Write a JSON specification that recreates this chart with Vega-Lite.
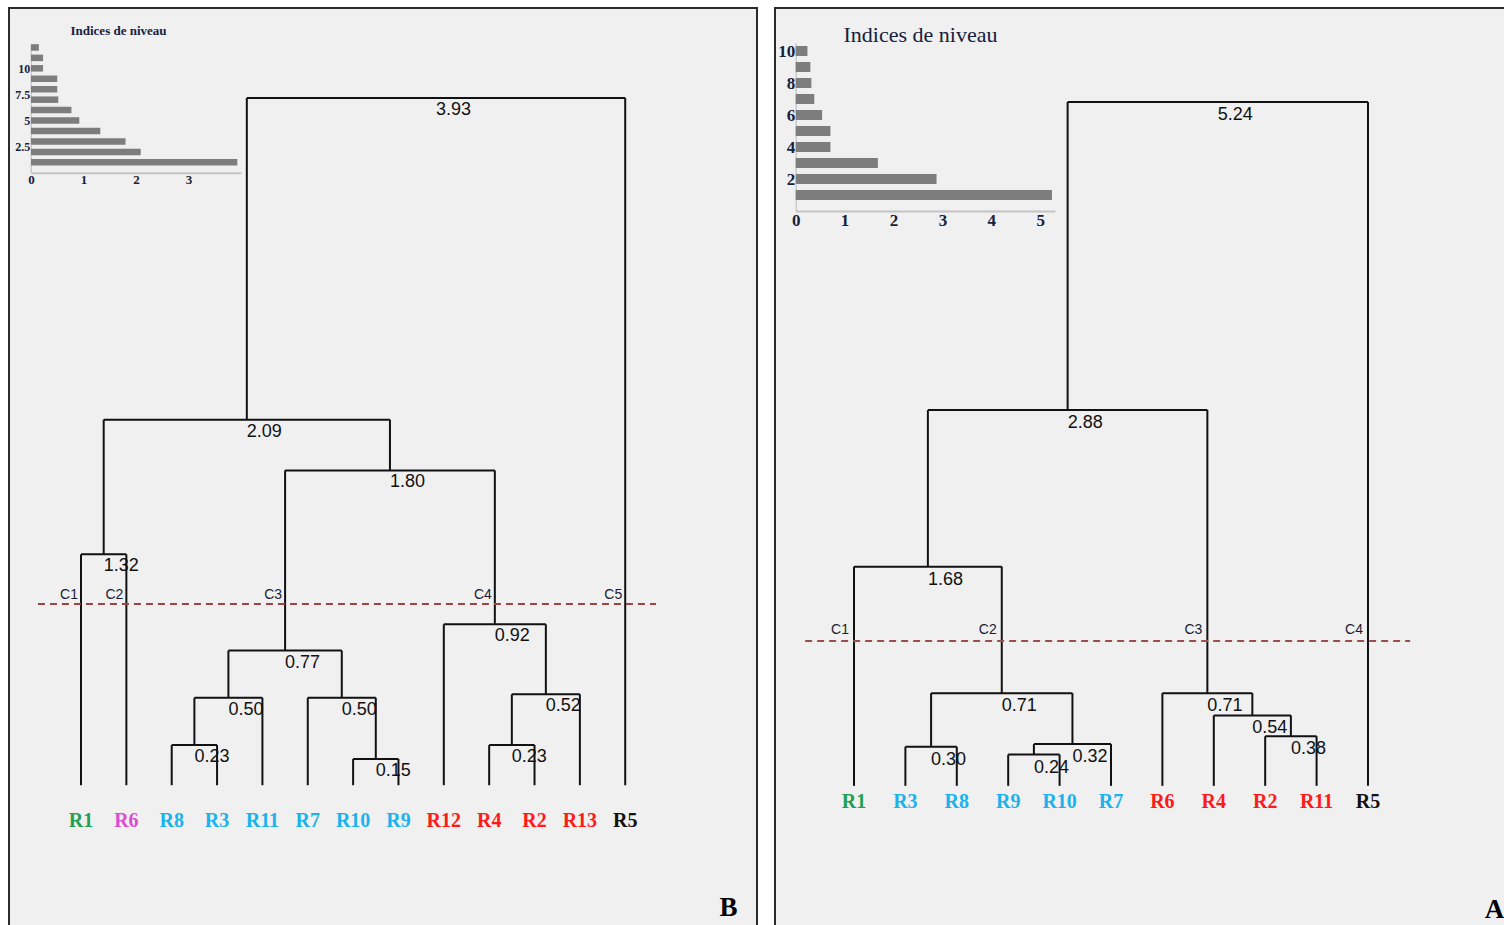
{
  "$schema": "https://vega.github.io/schema/vega-lite/v6.json",
  "background": "#ffffff",
  "padding": {"left": 8, "top": 7, "right": 0, "bottom": 0},
  "spacing": 16,
  "config": {
    "view": {"fill": "#f0f0f0", "stroke": "#2b2b2b", "strokeWidth": 2},
    "axis": {"grid": false, "ticks": false}
  },
  "resolve": {"scale": {"color": "independent"}},
  "datasets": {
    "leftNodes": [
      {"h": 0.23, "xl": 3, "hl": 0, "xr": 4, "hr": 0, "xc": 3.5},
      {"h": 0.50, "xl": 3.5, "hl": 0.23, "xr": 5, "hr": 0, "xc": 4.25},
      {"h": 0.15, "xl": 7, "hl": 0, "xr": 8, "hr": 0, "xc": 7.5},
      {"h": 0.50, "xl": 6, "hl": 0, "xr": 7.5, "hr": 0.15, "xc": 6.75},
      {"h": 0.77, "xl": 4.25, "hl": 0.50, "xr": 6.75, "hr": 0.50, "xc": 5.5},
      {"h": 0.23, "xl": 10, "hl": 0, "xr": 11, "hr": 0, "xc": 10.5},
      {"h": 0.52, "xl": 10.5, "hl": 0.23, "xr": 12, "hr": 0, "xc": 11.25},
      {"h": 0.92, "xl": 9, "hl": 0, "xr": 11.25, "hr": 0.52, "xc": 10.125},
      {"h": 1.80, "xl": 5.5, "hl": 0.77, "xr": 10.125, "hr": 0.92, "xc": 7.8125},
      {"h": 1.32, "xl": 1, "hl": 0, "xr": 2, "hr": 0, "xc": 1.5},
      {"h": 2.09, "xl": 1.5, "hl": 1.32, "xr": 7.8125, "hr": 1.80, "xc": 4.65625},
      {"h": 3.93, "xl": 4.65625, "hl": 2.09, "xr": 13, "hr": 0, "xc": 8.828}
    ],
    "leftLeaves": [
      {"leaf": "R1", "pos": 1, "cluster": "C1"},
      {"leaf": "R6", "pos": 2, "cluster": "C2"},
      {"leaf": "R8", "pos": 3, "cluster": "C3"},
      {"leaf": "R3", "pos": 4, "cluster": "C3"},
      {"leaf": "R11", "pos": 5, "cluster": "C3"},
      {"leaf": "R7", "pos": 6, "cluster": "C3"},
      {"leaf": "R10", "pos": 7, "cluster": "C3"},
      {"leaf": "R9", "pos": 8, "cluster": "C3"},
      {"leaf": "R12", "pos": 9, "cluster": "C4"},
      {"leaf": "R4", "pos": 10, "cluster": "C4"},
      {"leaf": "R2", "pos": 11, "cluster": "C4"},
      {"leaf": "R13", "pos": 12, "cluster": "C4"},
      {"leaf": "R5", "pos": 13, "cluster": "C5"}
    ],
    "leftClusters": [
      {"label": "C1", "pos": 1, "cut": 1.036},
      {"label": "C2", "pos": 2, "cut": 1.036},
      {"label": "C3", "pos": 5.5, "cut": 1.036},
      {"label": "C4", "pos": 10.125, "cut": 1.036},
      {"label": "C5", "pos": 13, "cut": 1.036}
    ],
    "leftCut": [{"cut": 1.036, "from": 0.05, "to": 13.68}],
    "leftBars": [
      {"rank": 1, "value": 3.93}, {"rank": 2, "value": 2.09}, {"rank": 3, "value": 1.80},
      {"rank": 4, "value": 1.32}, {"rank": 5, "value": 0.92}, {"rank": 6, "value": 0.77},
      {"rank": 7, "value": 0.52}, {"rank": 8, "value": 0.50}, {"rank": 9, "value": 0.50},
      {"rank": 10, "value": 0.23}, {"rank": 11, "value": 0.23}, {"rank": 12, "value": 0.15}
    ],
    "rightNodes": [
      {"h": 0.30, "xl": 2, "hl": 0, "xr": 3, "hr": 0, "xc": 2.5},
      {"h": 0.24, "xl": 4, "hl": 0, "xr": 5, "hr": 0, "xc": 4.5},
      {"h": 0.32, "xl": 4.5, "hl": 0.24, "xr": 6, "hr": 0, "xc": 5.25},
      {"h": 0.71, "xl": 2.5, "hl": 0.30, "xr": 5.25, "hr": 0.32, "xc": 3.875},
      {"h": 1.68, "xl": 1, "hl": 0, "xr": 3.875, "hr": 0.71, "xc": 2.4375},
      {"h": 0.38, "xl": 9, "hl": 0, "xr": 10, "hr": 0, "xc": 9.5},
      {"h": 0.54, "xl": 8, "hl": 0, "xr": 9.5, "hr": 0.38, "xc": 8.75},
      {"h": 0.71, "xl": 7, "hl": 0, "xr": 8.75, "hr": 0.54, "xc": 7.875},
      {"h": 2.88, "xl": 2.4375, "hl": 1.68, "xr": 7.875, "hr": 0.71, "xc": 5.15625},
      {"h": 5.24, "xl": 5.15625, "hl": 2.88, "xr": 11, "hr": 0, "xc": 8.078}
    ],
    "rightLeaves": [
      {"leaf": "R1", "pos": 1, "cluster": "C1"},
      {"leaf": "R3", "pos": 2, "cluster": "C2"},
      {"leaf": "R8", "pos": 3, "cluster": "C2"},
      {"leaf": "R9", "pos": 4, "cluster": "C2"},
      {"leaf": "R10", "pos": 5, "cluster": "C2"},
      {"leaf": "R7", "pos": 6, "cluster": "C2"},
      {"leaf": "R6", "pos": 7, "cluster": "C3"},
      {"leaf": "R4", "pos": 8, "cluster": "C3"},
      {"leaf": "R2", "pos": 9, "cluster": "C3"},
      {"leaf": "R11", "pos": 10, "cluster": "C3"},
      {"leaf": "R5", "pos": 11, "cluster": "C4"}
    ],
    "rightClusters": [
      {"label": "C1", "pos": 1, "cut": 1.11},
      {"label": "C2", "pos": 3.875, "cut": 1.11},
      {"label": "C3", "pos": 7.875, "cut": 1.11},
      {"label": "C4", "pos": 11, "cut": 1.11}
    ],
    "rightCut": [{"cut": 1.11, "from": 0.05, "to": 11.82}],
    "rightBars": [
      {"rank": 1, "value": 5.24}, {"rank": 2, "value": 2.88}, {"rank": 3, "value": 1.68},
      {"rank": 4, "value": 0.71}, {"rank": 5, "value": 0.71}, {"rank": 6, "value": 0.54},
      {"rank": 7, "value": 0.38}, {"rank": 8, "value": 0.32}, {"rank": 9, "value": 0.30},
      {"rank": 10, "value": 0.24}
    ]
  },
  "hconcat": [
    {
      "width": 748,
      "height": 918,
      "resolve": {"scale": {"x": "independent", "y": "independent"}},
      "layer": [
        {
          "layer": [
            {
              "data": {"name": "leftNodes"},
              "mark": {"type": "text", "align": "left", "baseline": "middle", "dy": 12, "font": "Liberation Sans", "fontSize": 18, "color": "#111111"},
              "encoding": {
                "x": {"field": "xc", "type": "quantitative", "scale": {"domain": [-0.588, 15.906], "nice": false, "zero": false}, "axis": {"orient": "bottom", "domain": false, "labels": false, "ticks": false, "grid": false, "title": "B", "titleX": 719, "titleY": -19, "titleFont": "Liberation Serif", "titleFontWeight": "bold", "titleFontSize": 27, "titleColor": "#000000", "titleBaseline": "middle", "titleAlign": "center"}},
                "y": {"field": "h", "type": "quantitative", "scale": {"domain": [-0.805, 4.444], "nice": false, "zero": false}, "axis": null},
                "text": {"field": "h", "type": "quantitative", "format": ".2f"}
              }
            },
            {
              "data": {"name": "leftNodes"},
              "mark": {"type": "rule", "color": "#111111", "strokeWidth": 2},
              "encoding": {
                "x": {"field": "xl", "type": "quantitative", "scale": {"domain": [-0.588, 15.906], "nice": false, "zero": false}, "axis": {"orient": "bottom", "domain": false, "labels": false, "ticks": false, "grid": false, "title": "B", "titleX": 719, "titleY": -19, "titleFont": "Liberation Serif", "titleFontWeight": "bold", "titleFontSize": 27, "titleColor": "#000000", "titleBaseline": "middle", "titleAlign": "center"}},
                "x2": {"field": "xr"},
                "y": {"field": "h", "type": "quantitative", "scale": {"domain": [-0.805, 4.444], "nice": false, "zero": false}, "axis": null}
              }
            },
            {
              "data": {"name": "leftNodes"},
              "mark": {"type": "rule", "color": "#111111", "strokeWidth": 2},
              "encoding": {
                "x": {"field": "xl", "type": "quantitative", "scale": {"domain": [-0.588, 15.906], "nice": false, "zero": false}, "axis": {"orient": "bottom", "domain": false, "labels": false, "ticks": false, "grid": false, "title": "B", "titleX": 719, "titleY": -19, "titleFont": "Liberation Serif", "titleFontWeight": "bold", "titleFontSize": 27, "titleColor": "#000000", "titleBaseline": "middle", "titleAlign": "center"}},
                "y": {"field": "hl", "type": "quantitative", "scale": {"domain": [-0.805, 4.444], "nice": false, "zero": false}, "axis": null},
                "y2": {"field": "h"}
              }
            },
            {
              "data": {"name": "leftNodes"},
              "mark": {"type": "rule", "color": "#111111", "strokeWidth": 2},
              "encoding": {
                "x": {"field": "xr", "type": "quantitative", "scale": {"domain": [-0.588, 15.906], "nice": false, "zero": false}, "axis": {"orient": "bottom", "domain": false, "labels": false, "ticks": false, "grid": false, "title": "B", "titleX": 719, "titleY": -19, "titleFont": "Liberation Serif", "titleFontWeight": "bold", "titleFontSize": 27, "titleColor": "#000000", "titleBaseline": "middle", "titleAlign": "center"}},
                "y": {"field": "hr", "type": "quantitative", "scale": {"domain": [-0.805, 4.444], "nice": false, "zero": false}, "axis": null},
                "y2": {"field": "h"}
              }
            },
            {
              "data": {"name": "leftCut"},
              "mark": {"type": "rule", "color": "#9c4444", "strokeWidth": 2, "strokeDash": [7, 5]},
              "encoding": {
                "x": {"field": "from", "type": "quantitative", "scale": {"domain": [-0.588, 15.906], "nice": false, "zero": false}, "axis": {"orient": "bottom", "domain": false, "labels": false, "ticks": false, "grid": false, "title": "B", "titleX": 719, "titleY": -19, "titleFont": "Liberation Serif", "titleFontWeight": "bold", "titleFontSize": 27, "titleColor": "#000000", "titleBaseline": "middle", "titleAlign": "center"}},
                "x2": {"field": "to"},
                "y": {"field": "cut", "type": "quantitative", "scale": {"domain": [-0.805, 4.444], "nice": false, "zero": false}, "axis": null}
              }
            },
            {
              "data": {"name": "leftClusters"},
              "mark": {"type": "text", "align": "right", "baseline": "middle", "dx": -3, "dy": -9, "font": "Liberation Sans", "fontSize": 14, "color": "#1b1b33"},
              "encoding": {
                "x": {"field": "pos", "type": "quantitative", "scale": {"domain": [-0.588, 15.906], "nice": false, "zero": false}, "axis": {"orient": "bottom", "domain": false, "labels": false, "ticks": false, "grid": false, "title": "B", "titleX": 719, "titleY": -19, "titleFont": "Liberation Serif", "titleFontWeight": "bold", "titleFontSize": 27, "titleColor": "#000000", "titleBaseline": "middle", "titleAlign": "center"}},
                "y": {"field": "cut", "type": "quantitative", "scale": {"domain": [-0.805, 4.444], "nice": false, "zero": false}, "axis": null},
                "text": {"field": "label"}
              }
            },
            {
              "data": {"name": "leftLeaves"},
              "mark": {"type": "text", "align": "center", "baseline": "middle", "dy": 36, "font": "Liberation Serif", "fontWeight": "bold", "fontSize": 20},
              "encoding": {
                "x": {"field": "pos", "type": "quantitative", "scale": {"domain": [-0.588, 15.906], "nice": false, "zero": false}, "axis": {"orient": "bottom", "domain": false, "labels": false, "ticks": false, "grid": false, "title": "B", "titleX": 719, "titleY": -19, "titleFont": "Liberation Serif", "titleFontWeight": "bold", "titleFontSize": 27, "titleColor": "#000000", "titleBaseline": "middle", "titleAlign": "center"}},
                "y": {"datum": 0, "type": "quantitative", "scale": {"domain": [-0.805, 4.444], "nice": false, "zero": false}, "axis": null},
                "text": {"field": "leaf"},
                "color": {"field": "cluster", "type": "nominal", "scale": {"domain": ["C1", "C2", "C3", "C4", "C5"], "range": ["#1fa055", "#d84fd0", "#1cb2ec", "#ff1a1a", "#111111"]}, "legend": null}
              }
            }
          ]
        },
        {
          "data": {"name": "leftBars"},
          "mark": {"type": "bar", "orient": "horizontal", "size": 6.5, "color": "#7d7d7d"},
          "encoding": {
            "x": {"field": "value", "type": "quantitative", "stack": null, "scale": {"domain": [0, 4], "range": [22, 232], "nice": false, "zero": false, "padding": 0},
              "axis": {"orient": "bottom", "offset": -753.2, "values": [0, 1, 2, 3], "format": "d", "ticks": false, "grid": false, "labelFlush": false, "domainColor": "#c4c4c4", "domainWidth": 2, "labelFont": "Liberation Serif", "labelFontWeight": "bold", "labelFontSize": 13, "labelColor": "#16213e", "labelPadding": 1,
                "title": "Indices de niveau", "titleX": 109, "titleY": -142.8, "titleFont": "Liberation Serif", "titleFontWeight": "bold", "titleFontSize": 13, "titleColor": "#16213e", "titleBaseline": "middle", "titleAlign": "center"}},
            "y": {"field": "rank", "type": "quantitative", "scale": {"domain": [0, 12.3], "range": [164.8, 36.3], "nice": false, "zero": false, "padding": 0},
              "axis": {"orient": "left", "offset": -21.7, "values": [2.5, 5, 7.5, 10], "format": ".1~f", "ticks": false, "grid": false, "domainColor": "#b8b8b8", "domainWidth": 1, "labelFont": "Liberation Serif", "labelFontWeight": "bold", "labelFontSize": 12, "labelColor": "#16213e", "labelPadding": 1, "title": null}}
          }
        }
      ]
    },
    {
      "width": 735,
      "height": 918,
      "resolve": {"scale": {"x": "independent", "y": "independent"}},
      "layer": [
        {
          "layer": [
            {
              "data": {"name": "rightNodes"},
              "mark": {"type": "text", "align": "left", "baseline": "middle", "dy": 13, "font": "Liberation Sans", "fontSize": 18, "color": "#111111"},
              "encoding": {
                "x": {"field": "xc", "type": "quantitative", "scale": {"domain": [-0.537, 13.763], "nice": false, "zero": false}, "axis": {"orient": "bottom", "domain": false, "labels": false, "ticks": false, "grid": false, "title": "A", "titleX": 719, "titleY": -17, "titleFont": "Liberation Serif", "titleFontWeight": "bold", "titleFontSize": 27, "titleColor": "#000000", "titleBaseline": "middle", "titleAlign": "center"}},
                "y": {"field": "h", "type": "quantitative", "scale": {"domain": [-1.074, 5.961], "nice": false, "zero": false}, "axis": null},
                "text": {"field": "h", "type": "quantitative", "format": ".2f"}
              }
            },
            {
              "data": {"name": "rightNodes"},
              "mark": {"type": "rule", "color": "#111111", "strokeWidth": 2},
              "encoding": {
                "x": {"field": "xl", "type": "quantitative", "scale": {"domain": [-0.537, 13.763], "nice": false, "zero": false}, "axis": {"orient": "bottom", "domain": false, "labels": false, "ticks": false, "grid": false, "title": "A", "titleX": 719, "titleY": -17, "titleFont": "Liberation Serif", "titleFontWeight": "bold", "titleFontSize": 27, "titleColor": "#000000", "titleBaseline": "middle", "titleAlign": "center"}},
                "x2": {"field": "xr"},
                "y": {"field": "h", "type": "quantitative", "scale": {"domain": [-1.074, 5.961], "nice": false, "zero": false}, "axis": null}
              }
            },
            {
              "data": {"name": "rightNodes"},
              "mark": {"type": "rule", "color": "#111111", "strokeWidth": 2},
              "encoding": {
                "x": {"field": "xl", "type": "quantitative", "scale": {"domain": [-0.537, 13.763], "nice": false, "zero": false}, "axis": {"orient": "bottom", "domain": false, "labels": false, "ticks": false, "grid": false, "title": "A", "titleX": 719, "titleY": -17, "titleFont": "Liberation Serif", "titleFontWeight": "bold", "titleFontSize": 27, "titleColor": "#000000", "titleBaseline": "middle", "titleAlign": "center"}},
                "y": {"field": "hl", "type": "quantitative", "scale": {"domain": [-1.074, 5.961], "nice": false, "zero": false}, "axis": null},
                "y2": {"field": "h"}
              }
            },
            {
              "data": {"name": "rightNodes"},
              "mark": {"type": "rule", "color": "#111111", "strokeWidth": 2},
              "encoding": {
                "x": {"field": "xr", "type": "quantitative", "scale": {"domain": [-0.537, 13.763], "nice": false, "zero": false}, "axis": {"orient": "bottom", "domain": false, "labels": false, "ticks": false, "grid": false, "title": "A", "titleX": 719, "titleY": -17, "titleFont": "Liberation Serif", "titleFontWeight": "bold", "titleFontSize": 27, "titleColor": "#000000", "titleBaseline": "middle", "titleAlign": "center"}},
                "y": {"field": "hr", "type": "quantitative", "scale": {"domain": [-1.074, 5.961], "nice": false, "zero": false}, "axis": null},
                "y2": {"field": "h"}
              }
            },
            {
              "data": {"name": "rightCut"},
              "mark": {"type": "rule", "color": "#9a5050", "strokeWidth": 2, "strokeDash": [7, 5]},
              "encoding": {
                "x": {"field": "from", "type": "quantitative", "scale": {"domain": [-0.537, 13.763], "nice": false, "zero": false}, "axis": {"orient": "bottom", "domain": false, "labels": false, "ticks": false, "grid": false, "title": "A", "titleX": 719, "titleY": -17, "titleFont": "Liberation Serif", "titleFontWeight": "bold", "titleFontSize": 27, "titleColor": "#000000", "titleBaseline": "middle", "titleAlign": "center"}},
                "x2": {"field": "to"},
                "y": {"field": "cut", "type": "quantitative", "scale": {"domain": [-1.074, 5.961], "nice": false, "zero": false}, "axis": null}
              }
            },
            {
              "data": {"name": "rightClusters"},
              "mark": {"type": "text", "align": "right", "baseline": "middle", "dx": -5, "dy": -11, "font": "Liberation Sans", "fontSize": 14, "color": "#1b1b33"},
              "encoding": {
                "x": {"field": "pos", "type": "quantitative", "scale": {"domain": [-0.537, 13.763], "nice": false, "zero": false}, "axis": {"orient": "bottom", "domain": false, "labels": false, "ticks": false, "grid": false, "title": "A", "titleX": 719, "titleY": -17, "titleFont": "Liberation Serif", "titleFontWeight": "bold", "titleFontSize": 27, "titleColor": "#000000", "titleBaseline": "middle", "titleAlign": "center"}},
                "y": {"field": "cut", "type": "quantitative", "scale": {"domain": [-1.074, 5.961], "nice": false, "zero": false}, "axis": null},
                "text": {"field": "label"}
              }
            },
            {
              "data": {"name": "rightLeaves"},
              "mark": {"type": "text", "align": "center", "baseline": "middle", "dy": 16, "font": "Liberation Serif", "fontWeight": "bold", "fontSize": 20},
              "encoding": {
                "x": {"field": "pos", "type": "quantitative", "scale": {"domain": [-0.537, 13.763], "nice": false, "zero": false}, "axis": {"orient": "bottom", "domain": false, "labels": false, "ticks": false, "grid": false, "title": "A", "titleX": 719, "titleY": -17, "titleFont": "Liberation Serif", "titleFontWeight": "bold", "titleFontSize": 27, "titleColor": "#000000", "titleBaseline": "middle", "titleAlign": "center"}},
                "y": {"datum": 0, "type": "quantitative", "scale": {"domain": [-1.074, 5.961], "nice": false, "zero": false}, "axis": null},
                "text": {"field": "leaf"},
                "color": {"field": "cluster", "type": "nominal", "scale": {"domain": ["C1", "C2", "C3", "C4"], "range": ["#1fa055", "#1cb2ec", "#ff1a1a", "#111111"]}, "legend": null}
              }
            }
          ]
        },
        {
          "data": {"name": "rightBars"},
          "mark": {"type": "bar", "orient": "horizontal", "size": 10, "color": "#7d7d7d"},
          "encoding": {
            "x": {"field": "value", "type": "quantitative", "stack": null, "scale": {"domain": [0, 5.3], "range": [20.7, 279.9], "nice": false, "zero": false, "padding": 0},
              "axis": {"orient": "bottom", "offset": -715, "values": [0, 1, 2, 3, 4, 5], "format": "d", "ticks": false, "grid": false, "labelFlush": false, "domainColor": "#c4c4c4", "domainWidth": 2, "labelFont": "Liberation Serif", "labelFontWeight": "bold", "labelFontSize": 17, "labelColor": "#16213e", "labelPadding": 1,
                "title": "Indices de niveau", "titleX": 145, "titleY": -177, "titleFont": "Liberation Serif", "titleFontWeight": "normal", "titleFontSize": 22, "titleColor": "#16213e", "titleBaseline": "middle", "titleAlign": "center"}},
            "y": {"field": "rank", "type": "quantitative", "scale": {"domain": [0, 10.5], "range": [203, 35], "nice": false, "zero": false, "padding": 0},
              "axis": {"orient": "left", "offset": -20.7, "values": [2, 4, 6, 8, 10], "format": "d", "ticks": false, "grid": false, "domainColor": "#b8b8b8", "domainWidth": 1, "labelFont": "Liberation Serif", "labelFontWeight": "bold", "labelFontSize": 17, "labelColor": "#16213e", "labelPadding": 1, "title": null}}
          }
        }
      ]
    }
  ]
}
